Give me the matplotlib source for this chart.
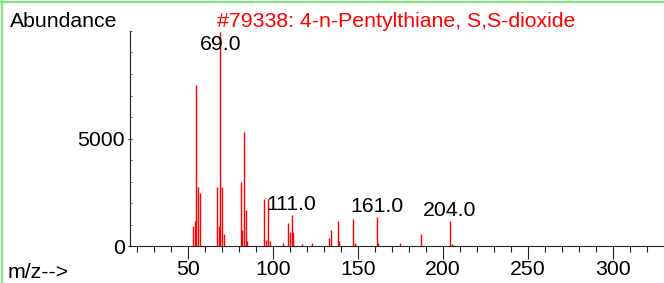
import matplotlib
matplotlib.use("Agg")
import matplotlib.pyplot as plt
from matplotlib.lines import Line2D
from matplotlib.ticker import MultipleLocator, FixedLocator

plt.rcParams['font.family'] = ['Liberation Sans', 'DejaVu Sans']
plt.rcParams['font.size'] = 15.3

# Data
mz = [53, 54, 55, 56, 57, 67, 68, 69, 70, 71, 81, 82, 83, 84, 85,
      95, 96, 97, 98, 106, 109, 110, 111, 112, 117, 123, 133, 134,
      138, 139, 147, 148, 161, 162, 175, 187, 204, 205, 206]
abundance = [930, 1160, 7490, 2740, 2460, 2740, 930, 9960, 2740, 560,
             2980, 740, 5290, 1670, 230, 2170, 280, 2170, 230, 150,
             1060, 670, 1440, 640, 80, 150, 360, 740, 1160, 250,
             1260, 150, 1360, 150, 150, 560, 1160, 100, 50]
labeled_peaks = [69, 111, 161, 204]
title = "#79338: 4-n-Pentylthiane, S,S-dioxide"
y_label = "Abundance"
x_label = "m/z-->"
x_major = [50, 100, 150, 200, 250, 300]
y_major = [0, 5000]

W, H = 664, 283
fig = plt.figure(figsize=(W / 100, H / 100), dpi=100)
ax = fig.add_axes([130 / W, 37 / H, (663 - 130) / W, 215 / H])

ymax = 10000
ax.vlines(mz, 0, abundance, colors='red', lw=1.0)
ax.set_xlim(15.9, 329.4)
ax.set_ylim(0, ymax)

for s in ['top', 'right']:
    ax.spines[s].set_visible(False)
for s in ['left', 'bottom']:
    ax.spines[s].set_linewidth(0.8)
    ax.spines[s].set_color('#222222')

ax.xaxis.set_major_locator(FixedLocator(x_major))
ax.xaxis.set_minor_locator(MultipleLocator(10))
ax.yaxis.set_major_locator(FixedLocator(y_major))
ax.yaxis.set_minor_locator(MultipleLocator(1000))
ax.set_xticklabels([str(v) for v in x_major])
ax.set_yticklabels([str(v) for v in y_major])

ax.tick_params(axis='x', which='major', length=9.4, width=0.8, pad=0.5,
               direction='out', color='#222222')
ax.tick_params(axis='x', which='minor', length=4.3, width=0.8,
               direction='out', color='#222222')
ax.tick_params(axis='y', which='major', length=2.5, width=0.8, pad=2.5,
               direction='inout', color='#222222')
ax.tick_params(axis='y', which='minor', length=1.5, width=0.6,
               direction='in', color='#555555')

label_cap = 0.888 * ymax
for p in labeled_peaks:
    a = abundance[mz.index(p)]
    y = min(a, label_cap)
    ax.annotate(f"{p:.1f}", xy=(p, y), xytext=(0, 3.6),
                textcoords='offset points', ha='center', va='baseline',
                annotation_clip=False)

fig.text(10 / W, 1 - 27 / H, y_label, ha='left', va='baseline')
fig.text(396 / W, 1 - 27 / H, title, ha='center', va='baseline', color='red')
fig.text(8 / W, 1 - 278.5 / H, x_label, ha='left', va='baseline')

green = '#7fe57f'
fig.add_artist(Line2D([0, 1], [1 - 1.5 / H, 1 - 1.5 / H], transform=fig.transFigure,
                      color=green, lw=1.6))
fig.add_artist(Line2D([1.5 / W, 1.5 / W], [0, 1], transform=fig.transFigure,
                      color=green, lw=1.6))

fig.savefig("out.png", dpi=100)
